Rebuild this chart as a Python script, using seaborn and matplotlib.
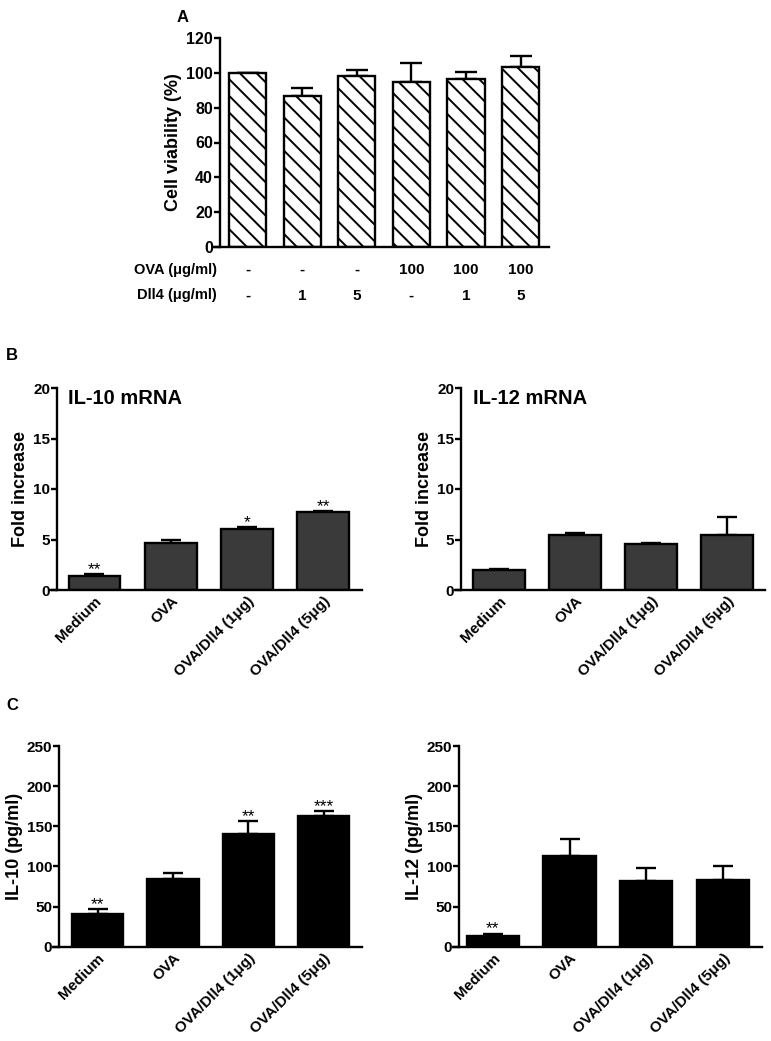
import matplotlib
matplotlib.use('Agg')
import matplotlib.pyplot as plt
import matplotlib.transforms as mtransforms
import pandas as pd
import seaborn as sns

# ---- data ----
# panel A: cell viability
a_ova_row = ['-', '-', '-', '100', '100', '100']
a_dll4_row = ['-', '1', '5', '-', '1', '5']
a_vals = [100, 86.8, 97.9, 95.0, 96.6, 103.4]
a_err = [0, 4.3, 4.0, 10.6, 3.7, 6.5]

groups = ['Medium', 'OVA', 'OVA/Dll4 (1μg)', 'OVA/Dll4 (5μg)']

# panel B: mRNA fold increase
il10_mrna = [1.42, 4.68, 6.07, 7.69]
il10_mrna_err = [0.13, 0.27, 0.15, 0.12]
il10_mrna_sig = ['**', '', '*', '**']
il12_mrna = [1.98, 5.45, 4.55, 5.45]
il12_mrna_err = [0.08, 0.15, 0.15, 1.75]
il12_mrna_sig = ['', '', '', '']

# panel C: protein (pg/ml)
il10_prot = [41.1, 84.3, 140.8, 163.2]
il10_prot_err = [5.5, 7.5, 15.8, 5.5]
il10_prot_sig = ['**', '', '**', '***']
il12_prot = [13.3, 112.6, 81.5, 83.5]
il12_prot_err = [2.9, 21.6, 16.5, 16.7]
il12_prot_sig = ['**', '', '', '']

sns.set_theme(style='ticks')
plt.rcParams['font.family'] = ['Liberation Sans', 'DejaVu Sans']
plt.rcParams['font.weight'] = 'bold'
plt.rcParams['axes.labelweight'] = 'bold'
plt.rcParams['text.color'] = 'black'
plt.rcParams['axes.labelcolor'] = 'black'
plt.rcParams['xtick.color'] = 'black'
plt.rcParams['ytick.color'] = 'black'
plt.rcParams['hatch.linewidth'] = 1.4
plt.rcParams['hatch.color'] = 'black'

W, H = 771, 1041
fig = plt.figure(figsize=(W / 100, H / 100), dpi=100)


def px_axes(left, bottom, right, top):
    return fig.add_axes([left / W, 1 - bottom / H, (right - left) / W, (bottom - top) / H])


def style_axes(ax, ylim, yticks, spine_x, xlim):
    ax.set_xlim(*xlim)
    ax.set_ylim(*ylim)
    ax.set_yticks(yticks)
    ax.spines['top'].set_visible(False)
    ax.spines['right'].set_visible(False)
    ax.spines['left'].set_position(('data', spine_x))
    for s in ['left', 'bottom']:
        ax.spines[s].set_linewidth(1.7)
        ax.spines[s].set_color('black')
    ax.tick_params(axis='y', length=4, width=1.7, labelsize=11, pad=1)
    ax.tick_params(axis='x', length=0, labelsize=11, pad=3)


def add_errors(ax, vals, errs, capsize):
    x = list(range(len(vals)))
    ax.errorbar(x, vals, yerr=[[0] * len(vals), errs], fmt='none', ecolor='black',
                elinewidth=1.7, capsize=capsize, capthick=1.7, zorder=1)


def add_stars(ax, vals, errs, sig):
    for i, (v, e, s) in enumerate(zip(vals, errs, sig)):
        if s:
            ax.annotate(s, (i, v + e), xytext=(0, -2), textcoords='offset points',
                        ha='center', va='bottom', fontsize=12.5, fontweight='normal')


def bar_panel(ax, vals, errs, sig, color, ylim, yticks, ylabel, title, spine_x, xlim):
    df = pd.DataFrame({'group': groups, 'value': vals})
    sns.barplot(data=df, x='group', y='value', color=color, width=0.68,
                edgecolor='black', linewidth=1.7, saturation=1, errorbar=None, ax=ax, zorder=2)
    add_errors(ax, vals, errs, 7)
    add_stars(ax, vals, errs, sig)
    style_axes(ax, ylim, yticks, spine_x, xlim)
    ax.set_xlabel('')
    ax.set_ylabel(ylabel, fontsize=13, labelpad=3)
    ax.set_xticks(range(len(groups)))
    ax.set_xticklabels(groups, rotation=45, ha='right', rotation_mode='anchor')
    if title:
        ax.text(0.058, 0.95, title, transform=ax.transAxes, fontsize=14.5,
                fontweight='bold', va='center', ha='left')


# ---- panel A ----
axA = px_axes(213, 247, 549, 38)
dfA = pd.DataFrame({'cond': [str(i) for i in range(len(a_vals))], 'value': a_vals})
sns.barplot(data=dfA, x='cond', y='value', color='white', width=0.68,
            edgecolor='black', linewidth=1.7, saturation=1, errorbar=None, ax=axA, zorder=2)
for p in axA.patches:
    p.set_hatch('\\\\')
add_errors(axA, a_vals, a_err, 8)
style_axes(axA, (0, 120), range(0, 121, 20), -0.504, (-0.632, 5.52))
axA.tick_params(axis='y', labelsize=11.5)
axA.set_xticks([])
axA.set_xlabel('')
axA.set_ylabel('Cell viability (%)', fontsize=13, labelpad=3)
tr = mtransforms.blended_transform_factory(axA.transData, axA.transAxes)
for i, (o, d) in enumerate(zip(a_ova_row, a_dll4_row)):
    axA.text(i, -0.11, o, transform=tr, ha='center', va='center', fontsize=11)
    axA.text(i, -0.235, d, transform=tr, ha='center', va='center', fontsize=11)
fig_px = mtransforms.blended_transform_factory(mtransforms.IdentityTransform(), fig.transFigure)
axA.text(217, 1 - 270 / H, 'OVA (μg/ml)', transform=fig_px, ha='right', va='center', fontsize=10.5)
axA.text(217, 1 - 295 / H, 'Dll4 (μg/ml)', transform=fig_px, ha='right', va='center', fontsize=10.5)

# ---- panel B ----
axB1 = px_axes(50, 590, 362, 388)
bar_panel(axB1, il10_mrna, il10_mrna_err, il10_mrna_sig, '#3a3a3a', (0, 20), range(0, 21, 5),
          'Fold increase', 'IL-10 mRNA', -0.49, (-0.583, 3.506))
axB2 = px_axes(455, 590, 765, 388)
bar_panel(axB2, il12_mrna, il12_mrna_err, il12_mrna_sig, '#3a3a3a', (0, 20), range(0, 21, 5),
          'Fold increase', 'IL-12 mRNA', -0.5, (-0.579, 3.5))

# ---- panel C ----
axC1 = px_axes(53, 946.7, 362, 746)
bar_panel(axC1, il10_prot, il10_prot_err, il10_prot_sig, 'black', (0, 250), range(0, 251, 50),
          'IL-10 (pg/ml)', None, -0.51, (-0.593, 3.51))
axC2 = px_axes(453, 946.7, 762, 746)
bar_panel(axC2, il12_prot, il12_prot_err, il12_prot_sig, 'black', (0, 250), range(0, 251, 50),
          'IL-12 (pg/ml)', None, -0.44, (-0.52, 3.51))

# panel letters
fig.text(183 / W, 1 - 18 / H, 'A', fontsize=12, fontweight='bold', ha='center', va='center')
fig.text(12 / W, 1 - 355 / H, 'B', fontsize=12, fontweight='bold', ha='center', va='center')
fig.text(12 / W, 1 - 706 / H, 'C', fontsize=12, fontweight='bold', ha='center', va='center')

fig.savefig('out.png', dpi=100, facecolor='white')
